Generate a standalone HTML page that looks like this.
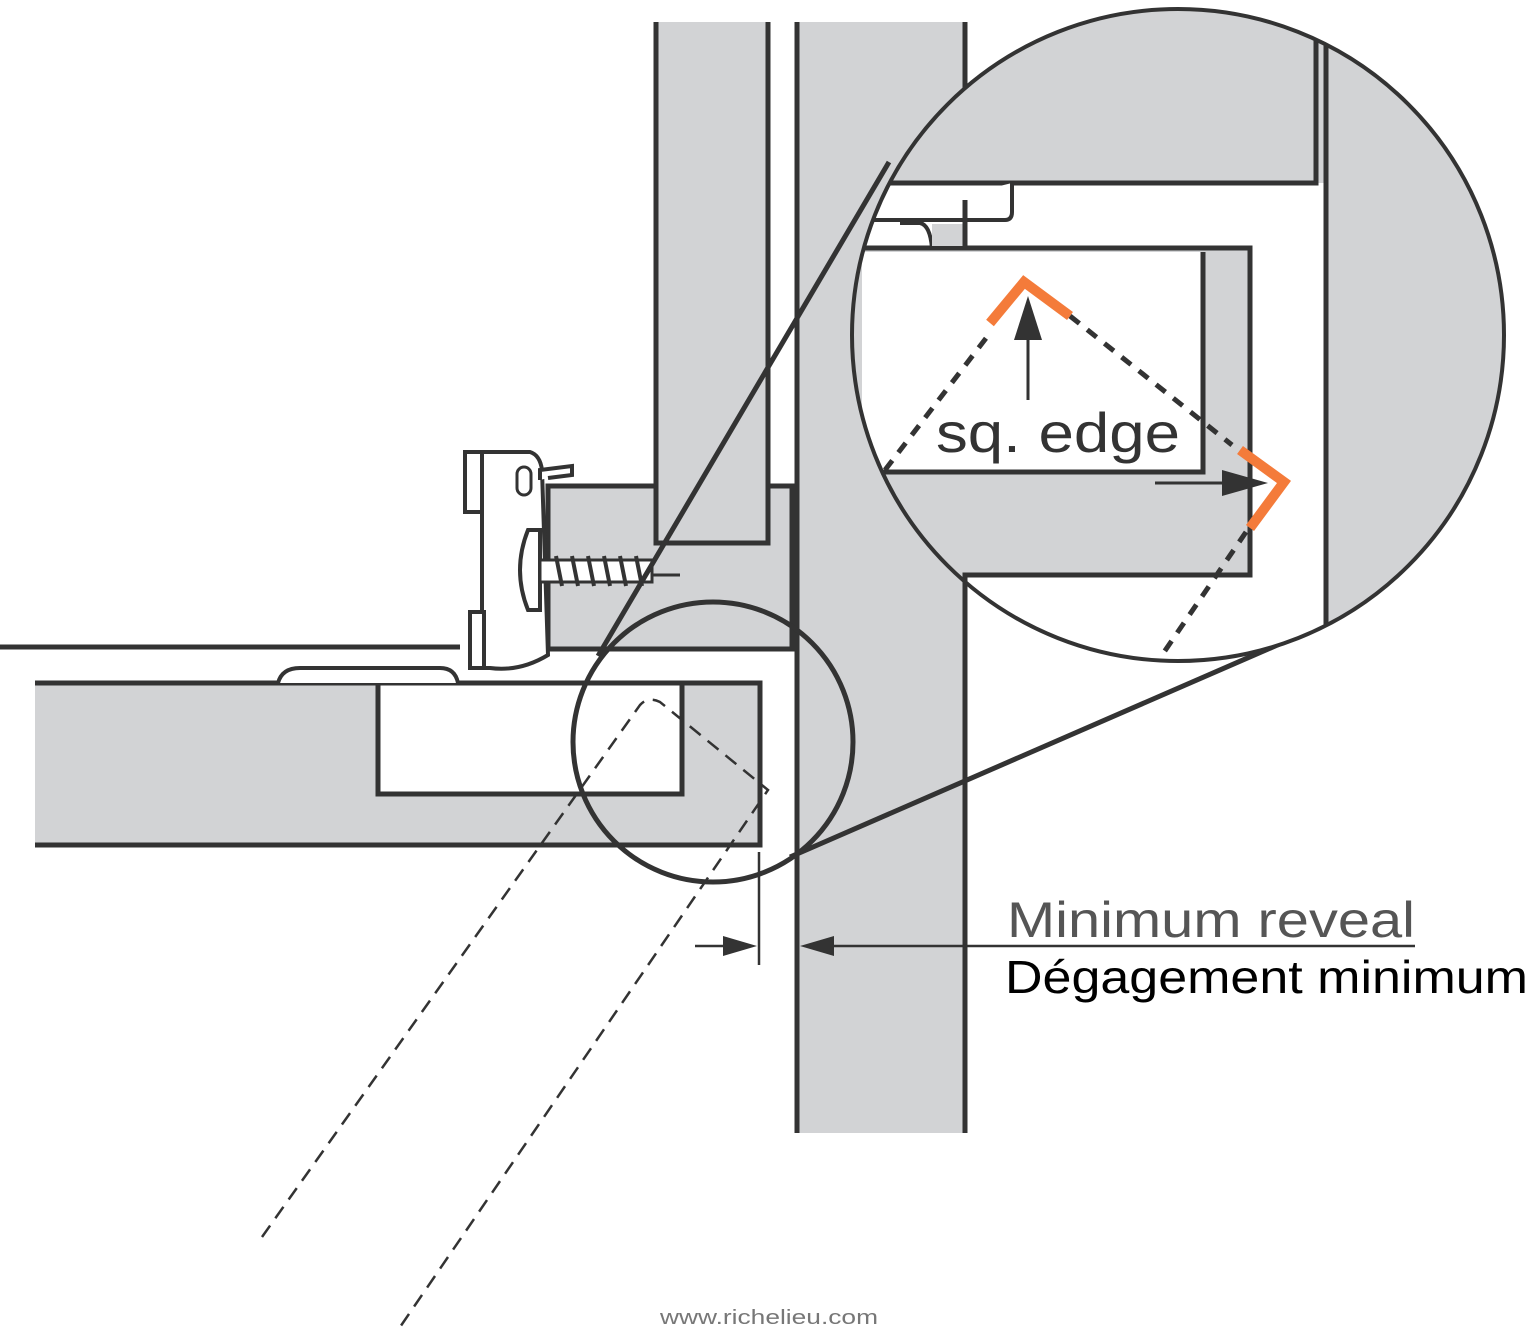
<!DOCTYPE html>
<html><head><style>
html,body{margin:0;padding:0;background:#fff;}
svg{display:block;}
</style></head><body>
<svg width="1536" height="1332" viewBox="0 0 1536 1332" xmlns="http://www.w3.org/2000/svg">
<defs>
<clipPath id="cc"><circle cx="1178" cy="335" r="326"/></clipPath>
</defs>
<g stroke="#333" stroke-width="5" fill="none">
<rect x="797" y="22" width="168" height="1111" fill="#d2d3d5" stroke="none"/>
<line x1="797" y1="22" x2="797" y2="1133"/>
<line x1="965" y1="22" x2="965" y2="1133"/>
<rect x="548" y="486" width="244" height="163" fill="#d2d3d5"/>
<rect x="656" y="22" width="112" height="521" fill="#d2d3d5" stroke="none"/>
<polyline points="656,22 656,543 768,543 768,22"/>
<rect x="35" y="683" width="725" height="162" fill="#d2d3d5" stroke="none"/>
<polyline points="35,683 760,683 760,845 35,845"/>
<rect x="378" y="683" width="304" height="111" fill="#fff"/>
<line x1="0" y1="647" x2="460" y2="647"/>
<path d="M278,683 Q282,668 300,668 L440,668 Q455,668 458,683" fill="#fff" stroke-width="4"/>
<rect x="465" y="452" width="20" height="60" fill="#fff" stroke-width="4"/>
<path d="M482,452 L530,452 Q540,455 542,470 L548,655 Q520,672 490,668 L482,668 Z" fill="#fff" stroke-width="4"/>
<rect x="470" y="612" width="14" height="56" fill="#fff" stroke-width="4"/>
<path d="M540,480 L540,470 L572,466 L572,475 L548,478" fill="#fff" stroke-width="4"/>
<rect x="517" y="467" width="14" height="28" rx="7" fill="#fff" stroke-width="3"/>
<path d="M528,530 Q512,570 528,610 L540,610 L540,530 Z" fill="#fff" stroke-width="4"/>
<rect x="540" y="560" width="112" height="22" fill="#fff" stroke-width="3"/>
<path d="M556,556 l6,30 M572,556 l6,30 M588,556 l6,30 M604,556 l6,30 M620,556 l6,30 M636,556 l6,30" stroke-width="4"/>
<line x1="652" y1="575" x2="680" y2="575" stroke-width="3"/>
<line x1="889" y1="162" x2="598" y2="656"/>
<line x1="1282" y1="643" x2="790" y2="857"/>
<circle cx="713" cy="742" r="140"/>
<g stroke-width="2.5" stroke-dasharray="14,9">
<path d="M262,1237 L640,705 Q648,696 660,702 L768,790 L398,1330"/>
</g>
<line x1="759" y1="852" x2="759" y2="965" stroke-width="2.5"/>
<line x1="695" y1="946" x2="740" y2="946" stroke-width="2.5"/>
<polygon points="757,946 723,936 723,956" fill="#333" stroke="none"/>
<line x1="830" y1="946" x2="1415" y2="946" stroke-width="2.5"/>
<polygon points="800,946 834,936 834,956" fill="#333" stroke="none"/>
</g>
<g clip-path="url(#cc)">
<rect x="840" y="0" width="700" height="700" fill="#d2d3d5"/>
<rect x="840" y="183" width="486" height="65" fill="#fff"/>
<rect x="1250" y="183" width="76" height="500" fill="#fff"/>
<rect x="965" y="575" width="300" height="120" fill="#fff"/>
<rect x="862" y="252" width="341" height="220" fill="#fff"/>
<g stroke="#333" stroke-width="5" fill="none">
<polyline points="1316,0 1316,183 840,183"/>
<line x1="1326" y1="0" x2="1326" y2="700"/>
<polyline points="840,248 1250,248 1250,575 965,575 965,700"/>
<polyline points="840,472 1203,472 1203,252"/>
<path d="M860,220 L1005,220 Q1012,220 1012,212 L1012,183" fill="#fff" stroke-width="4"/>
<path d="M900,223 L920,223 Q930,225 932,248" fill="none" stroke-width="4"/>
<rect x="932" y="224" width="31" height="22" fill="#d2d3d5" stroke="none"/>
<line x1="965" y1="200" x2="965" y2="248"/>
<g stroke-width="5" stroke-dasharray="12,10">
<line x1="885" y1="470" x2="990" y2="333"/>
<line x1="1070" y1="316" x2="1232" y2="445"/>
<line x1="1246" y1="532" x2="1160" y2="658"/>
</g>
</g>
<polyline points="990,323 1024,282 1070,316" stroke="#f47b3a" stroke-width="10" fill="none"/>
<polyline points="1240,450 1284,482 1250,528" stroke="#f47b3a" stroke-width="10" fill="none"/>
<line x1="1028" y1="400" x2="1028" y2="330" stroke="#333" stroke-width="3"/>
<polygon points="1028,296 1014,340 1042,340" fill="#333"/>
<line x1="1155" y1="483" x2="1230" y2="483" stroke="#333" stroke-width="3"/>
<polygon points="1268,483 1222,470 1222,496" fill="#333"/>
<text x="936" y="452" font-family="Liberation Sans, sans-serif" font-size="56" fill="#333" textLength="244" lengthAdjust="spacingAndGlyphs">sq. edge</text>
</g>
<circle cx="1178" cy="335" r="326" fill="none" stroke="#333" stroke-width="4"/>
<text x="1007" y="937" font-family="Liberation Sans, sans-serif" font-size="50" fill="#555" textLength="408" lengthAdjust="spacingAndGlyphs">Minimum reveal</text>
<text x="1005" y="993" font-family="Liberation Sans, sans-serif" font-size="46" fill="#000" textLength="523" lengthAdjust="spacingAndGlyphs">Dégagement minimum</text>
<text x="660" y="1324" font-family="Liberation Sans, sans-serif" font-size="20" fill="#777" textLength="218" lengthAdjust="spacingAndGlyphs">www.richelieu.com</text>
</svg>
</body></html>
